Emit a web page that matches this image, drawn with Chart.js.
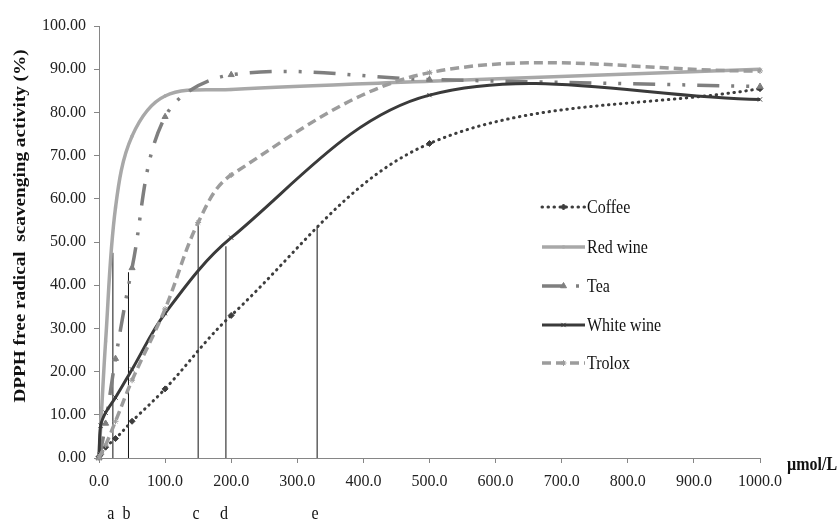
<!DOCTYPE html>
<html>
<head>
<meta charset="utf-8">
<script src="https://cdn.jsdelivr.net/npm/chart.js@4/dist/chart.umd.min.js"></script>
<style>
  html, body { margin: 0; padding: 0; background: #ffffff; }
  canvas { display: block; }
</style>
</head>
<body>
<canvas id="chart" width="838" height="522" style="width:838px;height:522px"></canvas>
<script>
// Concentrations (µmol/L) at which scavenging activity was measured
const concentrations = [0, 2.5, 10, 25, 50, 100, 200, 500, 1000];
const troloxConcentrations = [0, 2.5, 10, 25, 50, 100, 150, 200, 500, 1000];

// DPPH free radical scavenging activity (%)
const coffee    = [0.3, 0.8, 2.5, 4.5, 8.5, 16, 33, 72.8, 85.5];
const redWine   = [0.5, 7, 27, 58, 74.5, 83.8, 85.3, 87.2, 90];
const tea       = [0, 1.5, 8, 23, 44, 79, 88.7, 87.6, 86];
const whiteWine = [0, 7.5, 10.5, 14, 20.5, 33.5, 51, 84, 83];
const trolox    = [0, 0.8, 3, 8.5, 18, 34.5, 54.5, 65.5, 89.2, 89.6];

const seriesNames = ['Coffee', 'Red wine', 'Tea', 'White wine', 'Trolox'];

// Reference drop lines at ~50% activity, labelled a–e under the axis
const dropLabels = ['a', 'b', 'c', 'd', 'e'];
const dropX      = [21, 44.6, 150, 192, 330];
const dropTop    = [47.5, 43, 54, 49, 53.5];

// Axis ticks
const xTickValues = [0, 100, 200, 300, 400, 500, 600, 700, 800, 900, 1000];
const yTickValues = [0, 10, 20, 30, 40, 50, 60, 70, 80, 90, 100];

const yTitle = 'DPPH free radical  scavenging activity (%)';
const xUnit = 'µmol/L';

const SERIF = '"Liberation Serif", "Times New Roman", serif';
const STRETCH = 1.12;

const pairs = (xs, ys) => xs.map((x, i) => ({ x: x, y: ys[i] }));

const seriesStyles = [
  { color: '#3d3d3d', width: 3,   dash: [0.5, 5.5], cap: 'round', point: 'rectRot',  radius: 3,   order: 4 },
  { color: '#a8a8a8', width: 3.5, dash: [],         cap: 'butt',  point: 'rect',     radius: 1.5, order: 3 },
  { color: '#7f7f7f', width: 3.5, dash: [22, 12, 3, 12, 3, 12], cap: 'butt', point: 'triangle', radius: 3.5, order: 2 },
  { color: '#3a3a3a', width: 3,   dash: [],         cap: 'butt',  point: 'crossRot', radius: 3,   order: 1 },
  { color: '#9c9c9c', width: 3.5, dash: [9, 5],     cap: 'butt',  point: 'star',     radius: 3,   order: 0 }
];

const seriesData = [
  pairs(concentrations, coffee),
  pairs(concentrations, redWine),
  pairs(concentrations, tea),
  pairs(concentrations, whiteWine),
  pairs(troloxConcentrations, trolox)
];

const datasets = seriesNames.map((name, i) => {
  const s = seriesStyles[i];
  return {
    label: name,
    data: seriesData[i],
    borderColor: s.color,
    backgroundColor: s.color,
    borderWidth: s.width,
    borderDash: s.dash,
    borderCapStyle: s.cap,
    tension: 0.35,
    pointStyle: s.point,
    pointRadius: s.radius,
    pointBorderWidth: 1,
    pointBorderColor: s.color,
    pointBackgroundColor: s.color,
    order: s.order,
    clip: false
  };
});

dropX.forEach((x, i) => {
  datasets.push({
    label: dropLabels[i],
    data: [{ x: x, y: 0 }, { x: x, y: dropTop[i] }],
    borderColor: '#111111',
    borderWidth: 1,
    pointRadius: 0,
    tension: 0,
    order: 10
  });
});

function stretchedText(ctx, text, x, y, font, align, baseline, color) {
  ctx.save();
  ctx.font = font;
  ctx.fillStyle = color;
  ctx.textAlign = align;
  ctx.textBaseline = baseline;
  ctx.translate(x, y);
  ctx.scale(1, STRETCH);
  ctx.fillText(text, 0, 0);
  ctx.restore();
}

function drawMarker(ctx, style, x, y) {
  ctx.save();
  ctx.fillStyle = style.color;
  ctx.strokeStyle = style.color;
  ctx.lineWidth = 1;
  if (Chart.helpers && Chart.helpers.drawPoint) {
    Chart.helpers.drawPoint(ctx, { pointStyle: style.point, radius: style.radius, rotation: 0, borderWidth: 1 }, x, y);
  }
  ctx.restore();
}

const overlay = {
  id: 'overlay',
  afterDraw(chart) {
    const ctx = chart.ctx;
    const xs = chart.scales.x;

    // Vertical axis title
    ctx.save();
    ctx.translate(25, 226);
    ctx.rotate(-Math.PI / 2);
    ctx.scale(STRETCH * 1.01, 1);
    ctx.font = 'bold 17px ' + SERIF;
    ctx.fillStyle = '#111111';
    ctx.textAlign = 'center';
    ctx.textBaseline = 'alphabetic';
    ctx.fillText(yTitle, 0, 0);
    ctx.restore();

    // Unit label at the end of the horizontal axis
    stretchedText(ctx, xUnit, 787, 470, 'bold 16px ' + SERIF, 'left', 'alphabetic', '#111111');

    // Letters under the drop lines
    dropLabels.forEach((t, i) => {
      const px = xs.getPixelForValue(dropX[i]) - 2;
      stretchedText(ctx, t, px, 519, '16px ' + SERIF, 'center', 'alphabetic', '#111111');
    });

    // Legend
    const legendX0 = 542, legendX1 = 585, textX = 587;
    const rowY = [207, 247, 286, 325, 363];
    seriesNames.forEach((name, i) => {
      const s = seriesStyles[i];
      const y = rowY[i];
      ctx.save();
      ctx.strokeStyle = s.color;
      ctx.lineWidth = s.width;
      ctx.lineCap = s.cap;
      ctx.setLineDash(s.dash);
      ctx.beginPath();
      ctx.moveTo(legendX0, y);
      ctx.lineTo(legendX1, y);
      ctx.stroke();
      ctx.restore();
      drawMarker(ctx, s, (legendX0 + legendX1) / 2, y);
      stretchedText(ctx, name, textX, y + 1, '16px ' + SERIF, 'left', 'middle', '#111111');
    });
  }
};

const axisColor = '#868686';
const tickFont = { family: SERIF, size: 16 };

new Chart(document.getElementById('chart'), {
  type: 'line',
  data: { datasets: datasets },
  options: {
    responsive: false,
    animation: false,
    devicePixelRatio: 1,
    layout: { padding: { left: 0, right: 78, top: 26, bottom: 0 } },
    plugins: {
      legend: { display: false },
      tooltip: { enabled: false }
    },
    scales: {
      x: {
        type: 'linear',
        min: 0,
        max: 1000,
        afterBuildTicks: (scale) => { scale.ticks = xTickValues.map(v => ({ value: v })); },
        afterFit: (scale) => { scale.height = 64; },
        ticks: {
          callback: (v) => Number(v).toFixed(1),
          font: tickFont,
          color: '#222222',
          padding: 9,
          maxRotation: 0,
          autoSkip: false
        },
        grid: { display: true, drawOnChartArea: false, drawTicks: true, tickLength: 5, color: axisColor },
        border: { display: true, color: axisColor, width: 1 }
      },
      y: {
        type: 'linear',
        min: 0,
        max: 100,
        afterBuildTicks: (scale) => { scale.ticks = yTickValues.map(v => ({ value: v })); },
        afterFit: (scale) => { scale.width = 99; },
        ticks: {
          callback: (v) => Number(v).toFixed(2),
          font: tickFont,
          color: '#222222',
          padding: 8
        },
        grid: { display: true, drawOnChartArea: false, drawTicks: true, tickLength: 5, color: axisColor },
        border: { display: true, color: axisColor, width: 1 }
      }
    }
  },
  plugins: [overlay]
});
</script>
</body>
</html>
